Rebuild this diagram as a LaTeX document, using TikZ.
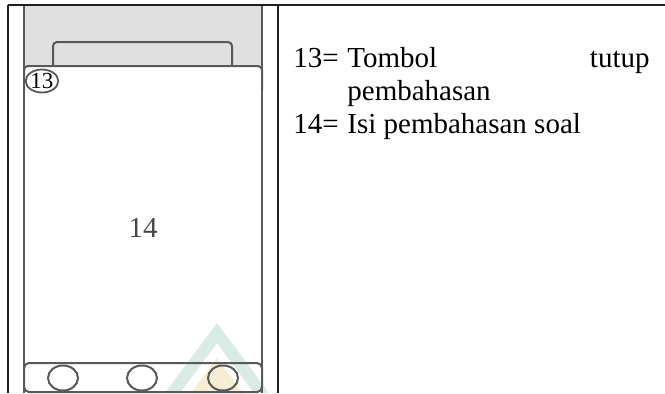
\documentclass[tikz,border=0pt]{standalone}
\usepackage{fontspec}
\setmainfont{Liberation Serif}
\usetikzlibrary{shapes.geometric}
\definecolor{phonegray}{HTML}{5A5858}
\definecolor{headgray}{HTML}{E0E0E0}
\definecolor{markteal}{HTML}{D8EBE5}
\definecolor{markgold}{HTML}{F6EDD3}

\begin{document}
\begin{tikzpicture}[x=0.5pt, y=-0.5pt,
  tablerule/.style={draw=black!88, line width=1.2pt},
  phoneline/.style={draw=phonegray, line width=1pt},
  navbtn/.style={ellipse, draw=phonegray, line width=1pt, minimum width=15pt, minimum height=12.5pt, inner sep=0pt},
  desc/.style={font=\fontsize{14.5}{16.5}\selectfont, inner sep=0pt}]
\useasboundingbox (0,0) rectangle (665,393);
% header strip of the screen
\fill[headgray] (24,5) rectangle (262,66);
% faint logo behind the bottom bar
\fill[markteal, even odd rule] (217,323) -- (165,393) -- (269,393) -- cycle
  (217,343) -- (180,393) -- (254,393) -- cycle;
\fill[markgold] (217,358) -- (191,393) -- (243,393) -- cycle;
% phone body
\draw[phoneline] (24,5) -- (24,393);
\draw[phoneline] (262,5) -- (262,393);
\draw[phoneline, rounded corners=2pt] (53,66) -- (53,42) -- (232,42) -- (232,66);
\draw[phoneline, rounded corners=2pt] (24,90) -- (24,66) -- (262,66) -- (262,90);
\draw[phoneline, rounded corners=2.5pt] (24,392) rectangle (262,363);
\node[ellipse, draw=phonegray, line width=0.9pt, minimum width=15pt, minimum height=11.5pt, inner sep=0pt,
  font=\fontsize{11.5}{12}\selectfont] (btnclose) at (42,81) {13};
\node[font=\fontsize{14.5}{16.5}\selectfont, text=black!72, anchor=base] (content) at (143,237) {14};
\node[navbtn] (navleft) at (63,378) {};
\node[navbtn] (navmid) at (142,378) {};
\node[navbtn] (navright) at (223,378) {};
% table rules
\draw[tablerule] (8,5) -- (665,5);
\draw[tablerule] (8,5) -- (8,393);
\draw[tablerule] (278,5) -- (278,393);
% legend
\node[desc, anchor=base west] (numA) at (293,67) {13=};
\node[desc, anchor=base west] (txtA) at (347,67) {Tombol};
\node[desc, anchor=base east] (txtB) at (650,67) {tutup};
\node[desc, anchor=base west] (txtC) at (347,100) {pembahasan};
\node[desc, anchor=base west] (numB) at (293,133) {14=};
\node[desc, anchor=base west] (txtD) at (347,133) {Isi pembahasan soal};
\end{tikzpicture}
\end{document}
